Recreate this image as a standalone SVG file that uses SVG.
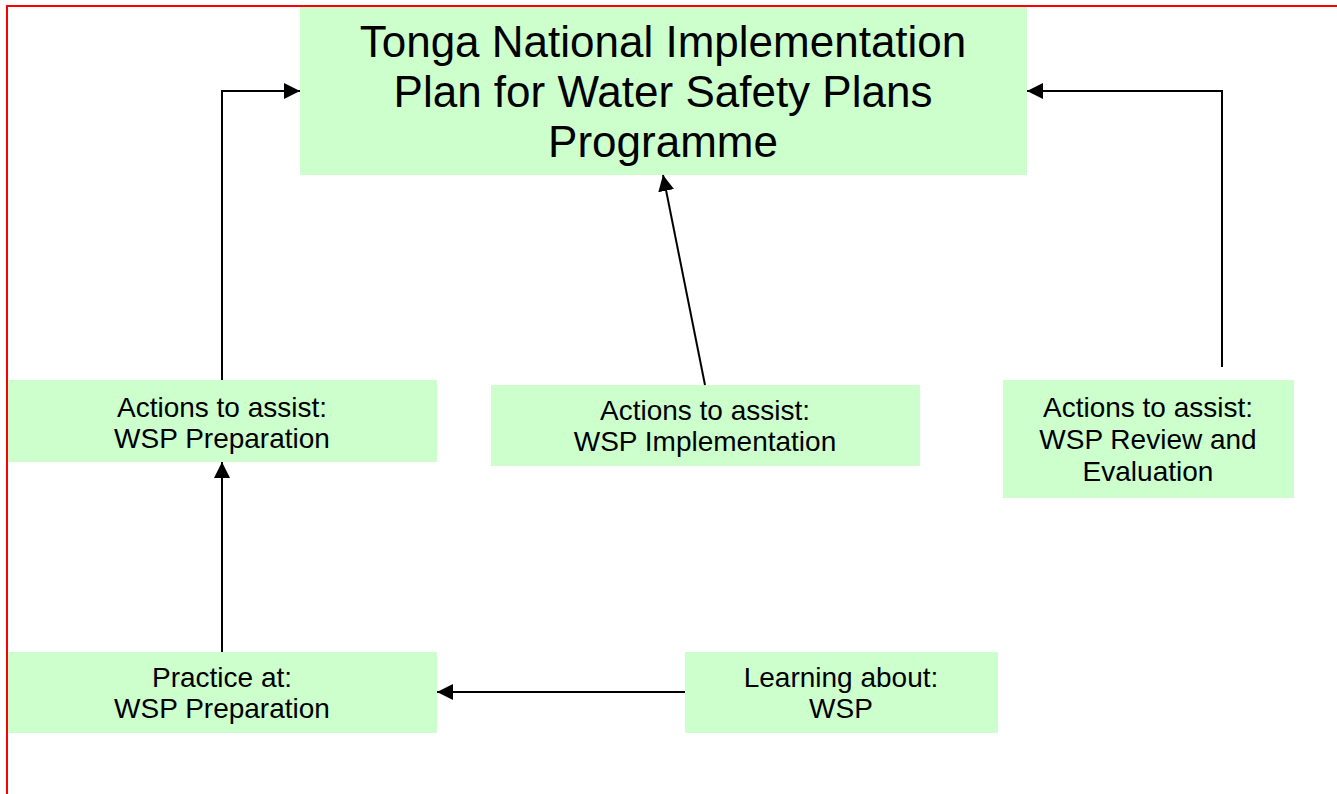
<svg xmlns="http://www.w3.org/2000/svg" width="1337" height="794" viewBox="0 0 1337 794">
  <style>
    .box { fill: #CCFFCC; stroke: none; }
    .t { font-family: "Liberation Sans", Arial, sans-serif; font-size: 28px; fill: #000; text-anchor: middle; }
    .title { font-family: "Liberation Sans", Arial, sans-serif; font-size: 44px; fill: #000; text-anchor: middle; }
    .conn { fill: none; stroke: #000; stroke-width: 2; marker-end: url(#arrow); }
    .frame { stroke: #FF0000; stroke-width: 2; fill: none; }
  </style>
  <defs>
    <marker id="arrow" markerUnits="userSpaceOnUse" markerWidth="16" markerHeight="16" viewBox="0 0 15 15" refX="15" refY="7.5" orient="auto">
      <path d="M0,0 L15,7.5 L0,15 z" fill="#000"/>
    </marker>
  </defs>
  <rect width="1337" height="794" fill="#fff"/>
  <g id="frame">
    <line class="frame" x1="6" y1="6" x2="1337" y2="6"/>
    <line class="frame" x1="7" y1="5" x2="7" y2="794"/>
  </g>

  <g id="title">
    <rect class="box" x="300" y="7" width="727" height="168"/>
    <text class="title" x="663" y="57">Tonga National Implementation</text>
    <text class="title" x="663" y="107">Plan for Water Safety Plans</text>
    <text class="title" x="663" y="157">Programme</text>
  </g>

  <g id="actions-prep">
    <rect class="box" x="8" y="380" width="429" height="82"/>
    <text class="t" x="222" y="417">Actions to assist:</text>
    <text class="t" x="222" y="448">WSP Preparation</text>
  </g>

  <g id="actions-impl">
    <rect class="box" x="491" y="385" width="429" height="81"/>
    <text class="t" x="705" y="420">Actions to assist:</text>
    <text class="t" x="705" y="451">WSP Implementation</text>
  </g>

  <g id="actions-review">
    <rect class="box" x="1003" y="380" width="291" height="118"/>
    <text class="t" x="1148" y="417">Actions to assist:</text>
    <text class="t" x="1148" y="449">WSP Review and</text>
    <text class="t" x="1148" y="481">Evaluation</text>
  </g>

  <g id="practice">
    <rect class="box" x="8" y="652" width="429" height="81"/>
    <text class="t" x="222" y="687">Practice at:</text>
    <text class="t" x="222" y="718">WSP Preparation</text>
  </g>

  <g id="learning">
    <rect class="box" x="685" y="652" width="313" height="81"/>
    <text class="t" x="841" y="687">Learning about:</text>
    <text class="t" x="841" y="718">WSP</text>
  </g>

  <g id="connectors">
    <path class="conn" d="M222,380 L222,91 L300,91"/>
    <path class="conn" d="M1222,367 L1222,91 L1027,91"/>
    <path class="conn" d="M705,385 L663,175"/>
    <path class="conn" d="M222,652 L222,462"/>
    <path class="conn" d="M685,692 L437,692"/>
  </g>
</svg>
